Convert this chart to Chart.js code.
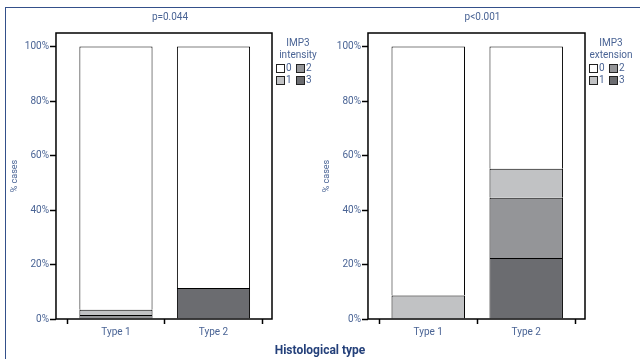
<!DOCTYPE html>
<html>
<head>
<meta charset="utf-8">
<script src="https://cdn.jsdelivr.net/npm/chart.js@4.4.1/dist/chart.umd.min.js"></script>
<style>
  body { margin: 0; background: #fff; width: 640px; height: 359px; overflow: hidden; position: relative; font-family: Roboto, sans-serif; }
  .frame { position: absolute; left: 5px; top: 7px; right: 0; bottom: 0; border-left: 1.5px solid #34508a; border-top: 1.5px solid #34508a; }
  canvas { position: absolute; top: 0; }
  #c1 { left: 0; }
  #c2 { left: 320px; }
  .xtitle { position: absolute; left: 0; width: 640px; top: 343px; text-align: center; font: bold 12px Roboto, sans-serif; color: #24407a; }
</style>
</head>
<body>
<div class="frame"></div>
<canvas id="c1" width="320" height="359"></canvas>
<canvas id="c2" width="320" height="359"></canvas>
<div class="xtitle">Histological type</div>
<script>
const categories = ['Type 1', 'Type 2'];
const levels = ['0', '1', '2', '3'];
const levelColors = ['#ffffff', '#c1c2c4', '#949598', '#6b6c70'];

// IMP3 intensity (% of cases) per level
const intensity0 = [96.6, 88.6];
const intensity1 = [1.9, 0];
const intensity2 = [1.5, 0];
const intensity3 = [0, 11.4];

// IMP3 extension (% of cases) per level
const extension0 = [91.4, 44.8];
const extension1 = [8.6, 10.7];
const extension2 = [0, 22.1];
const extension3 = [0, 22.4];

const yTicks = [0, 20, 40, 60, 80, 100];

const textColor = '#4a6495';

function makeDatasets(series) {
  // level 3 at the bottom, level 0 on top
  return [3, 2, 1, 0].map(i => ({
    label: levels[i],
    data: series[i].map((v, k) => ({ x: k, y: v })),
    backgroundColor: levelColors[i],
    borderColor: '#000',
    borderWidth: c => (c.parsed && c.parsed.y > 0 ? 1 : 0),
    borderSkipped: 'start',
    categoryPercentage: 1,
    barPercentage: 0.75
  }));
}

const boxPlugin = {
  id: 'boxAndLegend',
  afterDraw(chart) {
    const ctx = chart.ctx;
    const a = chart.chartArea;
    const o = chart.options.plugins.boxAndLegend;
    ctx.save();
    ctx.strokeStyle = '#000';
    ctx.lineWidth = 1.5;
    ctx.strokeRect(a.left, a.top, a.right - a.left, a.bottom - a.top);

    ctx.fillStyle = textColor;
    ctx.font = '10px Roboto, sans-serif';
    ctx.textAlign = 'center';
    ctx.textBaseline = 'middle';
    ctx.fillText(o.title, (a.left + a.right) / 2 + 6, 17);

    const lx = a.right + 26;
    ctx.fillText('IMP3', lx, 43);
    ctx.fillText(o.legendTitle, lx, 55);

    const order = [[0, 2], [1, 3]];
    ctx.textAlign = 'left';
    order.forEach((row, r) => {
      row.forEach((lvl, c) => {
        const x = a.right + 4 + c * 20;
        const y = 64 + r * 12;
        ctx.fillStyle = levelColors[lvl];
        ctx.fillRect(x, y, 8, 8);
        ctx.strokeStyle = '#222';
        ctx.lineWidth = 1;
        ctx.strokeRect(x + 0.5, y + 0.5, 8, 8);
        ctx.fillStyle = textColor;
        ctx.fillText(levels[lvl], x + 10, y + 4.5);
      });
    });
    ctx.restore();
  }
};

function makeChart(id, series, title, legendTitle, padding) {
  return new Chart(document.getElementById(id), {
    type: 'bar',
    data: { datasets: makeDatasets(series) },
    options: {
      responsive: false,
      animation: false,
      devicePixelRatio: 1,
      layout: { padding },
      plugins: {
        legend: { display: false },
        tooltip: { enabled: false },
        boxAndLegend: { title, legendTitle }
      },
      scales: {
        x: {
          type: 'linear',
          stacked: true,
          min: -0.615,
          max: 1.6,
          offset: false,
          border: { display: false },
          afterBuildTicks: axis => { axis.ticks = categories.map((c, k) => ({ value: k })); },
          grid: { drawOnChartArea: false, drawTicks: true, tickLength: 5, tickColor: '#000', tickWidth: 1.5 },
          ticks: { color: textColor, font: { family: 'Roboto', size: 10 }, padding: 2, callback: v => categories[v] }
        },
        y: {
          stacked: true,
          min: 0,
          max: 105,
          border: { display: false },
          afterBuildTicks: axis => { axis.ticks = yTicks.map(v => ({ value: v })); },
          grid: { drawOnChartArea: false, drawTicks: true, tickLength: 6, tickColor: '#000', tickWidth: 1.5 },
          ticks: { color: textColor, font: { family: 'Roboto', size: 10 }, padding: 1, callback: v => v + '%' },
          title: { display: true, text: '% cases', color: textColor, font: { family: 'Roboto', size: 9 }, padding: { top: 0, bottom: 4 } }
        }
      }
    },
    plugins: [boxPlugin]
  });
}

makeChart('c1', [intensity0, intensity1, intensity2, intensity3], 'p=0.044', 'intensity',
  { left: 9, right: 48, top: 33, bottom: 19 });
makeChart('c2', [extension0, extension1, extension2, extension3], 'p<0.001', 'extension',
  { left: 1, right: 55, top: 33, bottom: 19 });
</script>
</body>
</html>
